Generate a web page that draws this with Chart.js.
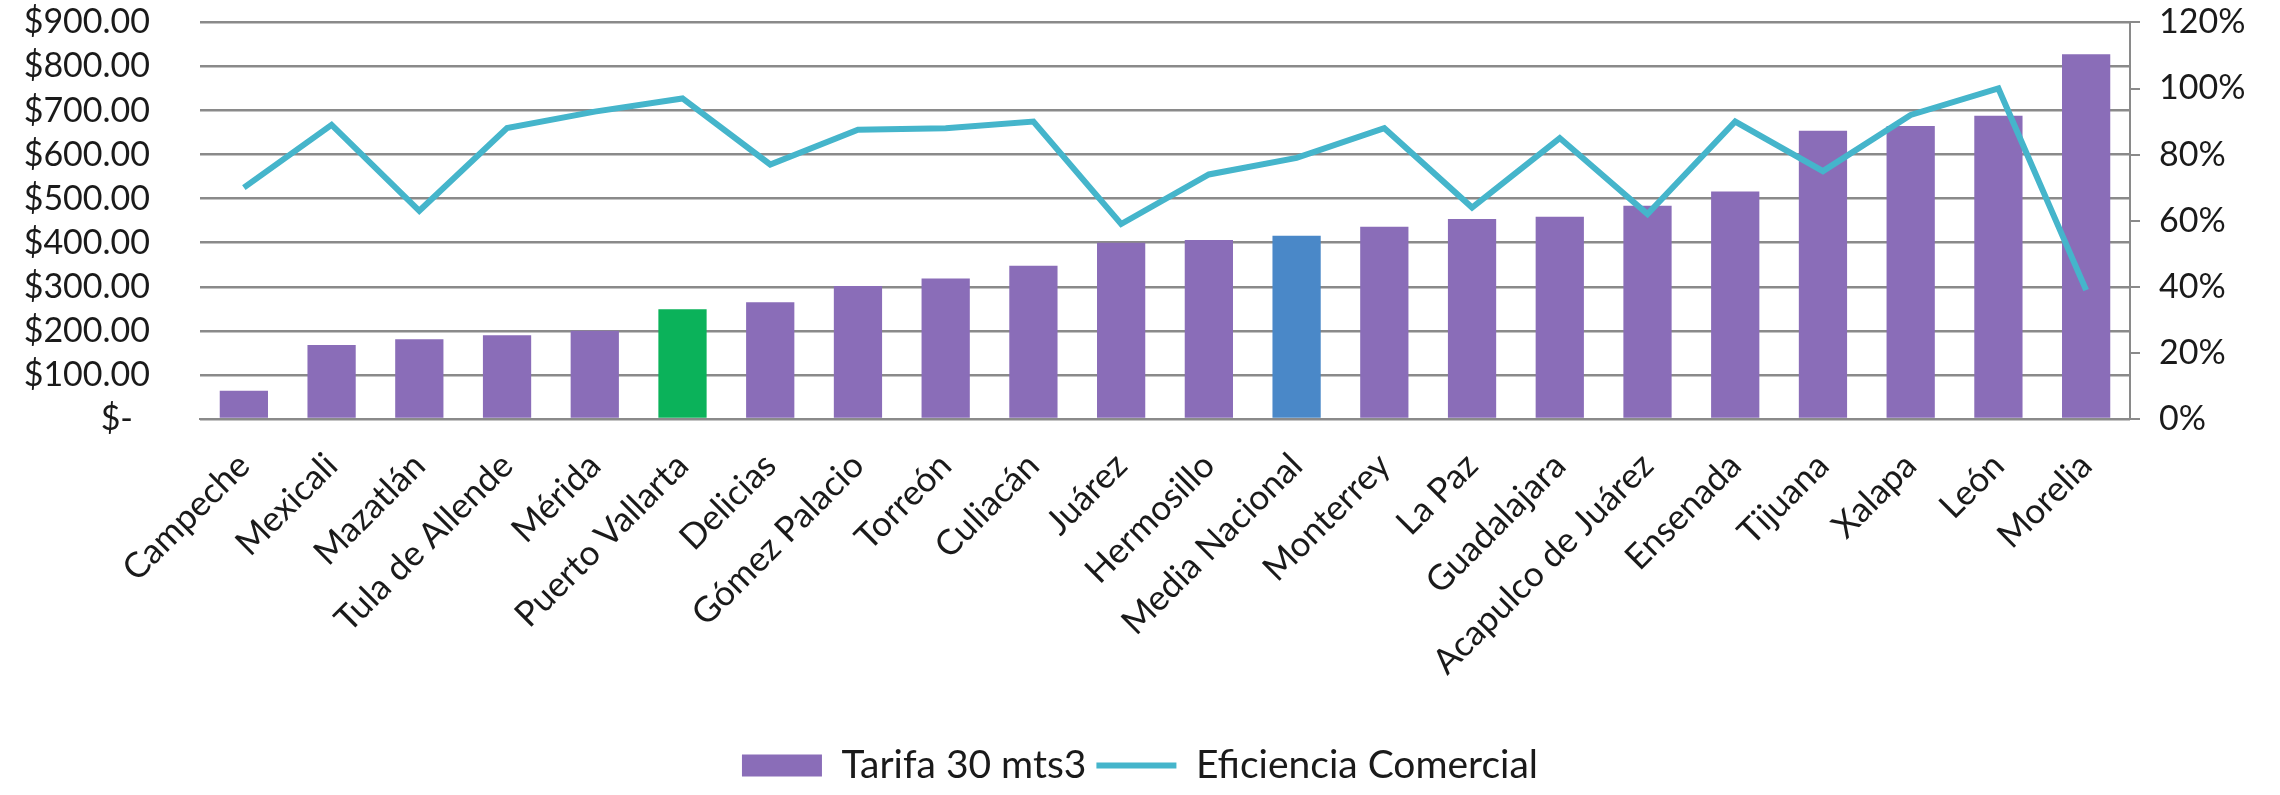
<!DOCTYPE html>
<html>
<head>
<meta charset="utf-8">
<script src="https://cdn.jsdelivr.net/npm/chart.js@4.4.1/dist/chart.umd.min.js"></script>
<style>
  html, body { margin: 0; padding: 0; background: #ffffff; }
  #wrap { position: relative; width: 2280px; height: 795px; }
</style>
</head>
<body>
<div id="wrap"><canvas id="tarifas"></canvas></div>
<script>
  // Ciudades (ordenadas por tarifa)
  var ciudades = ['Campeche', 'Mexicali', 'Mazatlán', 'Tula de Allende', 'Mérida', 'Puerto Vallarta',
    'Delicias', 'Gómez Palacio', 'Torreón', 'Culiacán', 'Juárez', 'Hermosillo', 'Media Nacional',
    'Monterrey', 'La Paz', 'Guadalajara', 'Acapulco de Juárez', 'Ensenada', 'Tijuana', 'Xalapa',
    'León', 'Morelia'];

  // Tarifa 30 mts3 ($)
  var tarifa = [64, 168, 181, 190, 200, 249, 265, 302, 319, 348, 400, 406, 416, 436, 454, 459,
    484, 516, 654, 665, 688, 828];

  // Eficiencia comercial (%)
  var eficiencia = [70, 89, 63, 88, 93, 97, 77, 87.5, 88, 90, 59, 74, 79, 88, 64, 85, 62, 90,
    75, 92, 100, 39];

  var ticksPesos = [0, 100, 200, 300, 400, 500, 600, 700, 800, 900];
  var ticksPct = [0, 20, 40, 60, 80, 100, 120];

  var morado = '#8a6db8';
  var verde = '#0bb25a';
  var azul = '#4a88c8';
  var turquesa = '#45b5cb';
  var gris = '#8a8a8a';

  // Puerto Vallarta en verde, la media nacional en azul
  var coloresBarras = ciudades.map(function(c) {
    if (c === 'Puerto Vallarta') return verde;
    if (c === 'Media Nacional') return azul;
    return morado;
  });

  function formatoPesos(v) {
    if (v === 0) return '$-\u2002';
    return '$' + v.toFixed(2);
  }

  var familia = 'Lato, "Open Sans", sans-serif';
  Chart.defaults.color = '#1a1a1a';

  var ctx = document.getElementById('tarifas').getContext('2d');
  var grafica = new Chart(ctx, {
    type: 'bar',
    data: {
      labels: ciudades,
      datasets: [{
        label: 'Tarifa 30 mts3',
        data: tarifa,
        backgroundColor: coloresBarras,
        borderWidth: 0,
        categoryPercentage: 1,
        barPercentage: 0.55,
        pointStyle: 'rect',
        yAxisID: 'y',
        order: 1
      }, {
        type: 'line',
        label: 'Eficiencia Comercial',
        data: eficiencia,
        borderColor: turquesa,
        backgroundColor: turquesa,
        borderWidth: 6,
        pointRadius: 0,
        pointStyle: 'line',
        tension: 0,
        yAxisID: 'y1',
        order: 0
      }]
    },
    options: {
      responsive: true,
      maintainAspectRatio: false,
      animation: false,
      layout: { padding: 0 },
      plugins: {
        tooltip: { enabled: false },
        legend: {
          position: 'bottom',
          labels: {
            font: { family: familia, size: 39 },
            color: '#1a1a1a',
            usePointStyle: true,
            pointStyleWidth: 80,
            boxHeight: 22,
            padding: 10,
            sort: function(a, b) { return a.datasetIndex - b.datasetIndex; }
          }
        }
      },
      scales: {
        x: {
          grid: { display: false },
          border: { display: true, color: gris, width: 2 },
          ticks: {
            font: { family: familia, size: 35 },
            autoSkip: false,
            minRotation: 45,
            maxRotation: 45,
            padding: 18,
            labelOffset: 0
          },
          afterFit: function(scale) { scale.height = 317; }
        },
        y: {
          position: 'left',
          min: 0,
          max: 900,
          afterBuildTicks: function(scale) {
            scale.ticks = ticksPesos.map(function(v) { return { value: v }; });
          },
          // marcas invisibles: sólo separan las etiquetas del área
          grid: { color: gris, lineWidth: 2.5, tickLength: 48, tickColor: 'rgba(0,0,0,0)' },
          border: { display: false },
          ticks: {
            font: { family: familia, size: 34 },
            autoSkip: false,
            padding: 2,
            callback: function(v) { return formatoPesos(v); }
          },
          afterFit: function(scale) { scale.width = 200; }
        },
        y1: {
          position: 'right',
          min: 0,
          max: 120,
          afterBuildTicks: function(scale) {
            scale.ticks = ticksPct.map(function(v) { return { value: v }; });
          },
          grid: { drawOnChartArea: false, color: gris, lineWidth: 2, tickLength: 10 },
          border: { display: true, color: gris, width: 2 },
          ticks: {
            font: { family: familia, size: 34 },
            autoSkip: false,
            padding: 2,
            callback: function(v) { return '\u2002' + Math.round(v) + '%'; }
          },
          afterFit: function(scale) { scale.width = 150; }
        }
      }
    }
  });
</script>
</body>
</html>
